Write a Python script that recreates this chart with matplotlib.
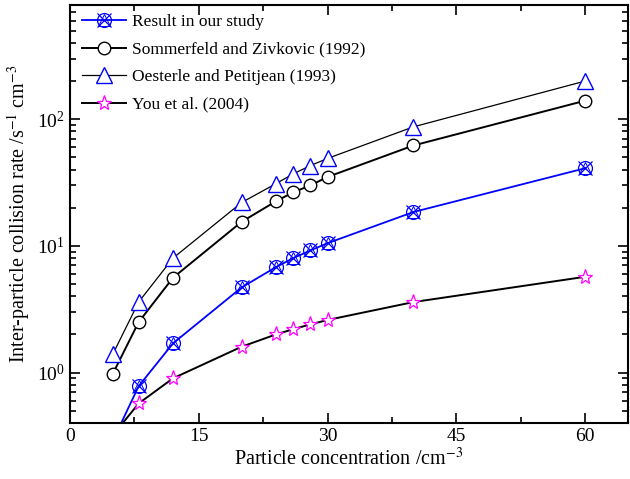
import numpy as np
import matplotlib.pyplot as plt
from matplotlib.ticker import FixedLocator, LogLocator, NullFormatter
from matplotlib.legend_handler import HandlerTuple

plt.rcParams['font.family'] = ['Liberation Serif', 'DejaVu Serif']
plt.rcParams['mathtext.fontset'] = 'stix'

# data
conc = [5, 8, 12, 20, 24, 26, 28, 30, 40, 60]
our_study = [0.29, 0.78, 1.7, 4.7, 6.8, 8.0, 9.2, 10.5, 18.5, 41]
sommerfeld = [0.98, 2.5, 5.6, 15.5, 22.5, 26.5, 30, 35, 62, 140]
oesterle = [1.4, 3.6, 8.0, 22, 31, 37, 43, 49, 87, 200]
you = [0.32, 0.57, 0.9, 1.6, 2.0, 2.2, 2.4, 2.6, 3.6, 5.7]

fig = plt.figure(figsize=(6.3, 4.79), dpi=100)
ax = fig.add_axes([0.111, 0.117, 0.886, 0.873])

# our study: circle + cross + triangle overlay
l1, = ax.plot(conc, our_study, color='blue', lw=1.3, marker='o', ms=10, mfc='none', mec='blue', mew=0.9)
l1x, = ax.plot(conc, our_study, ls='none', marker='x', ms=10, mec='blue', mew=0.9)
l1t, = ax.plot(conc, our_study, ls='none', marker='^', ms=9, mfc='none', mec='blue', mew=0.7)
l2, = ax.plot(conc, sommerfeld, color='black', lw=1.4, marker='o', ms=9, mfc='white', mec='black', mew=1.0)
l3, = ax.plot(conc, oesterle, color='black', lw=0.9, marker='^', ms=11, mfc='white', mec='blue', mew=1.0)
l4, = ax.plot(conc, you, color='black', lw=1.4, marker='*', ms=11, mfc='white', mec='magenta', mew=0.9)

ax.set_yscale('log')
ax.set_xlim(0, 65)
ax.set_ylim(0.4, 800)
ax.xaxis.set_major_locator(FixedLocator([0, 15, 30, 45, 60]))
ax.xaxis.set_minor_locator(FixedLocator([7.5, 22.5, 37.5, 52.5]))
ax.yaxis.set_major_locator(LogLocator(base=10))
ax.yaxis.set_minor_locator(LogLocator(base=10, subs=np.arange(2, 10)))
ax.yaxis.set_minor_formatter(NullFormatter())

ax.tick_params(which='both', direction='in', top=True, right=True, labelsize=14, width=1.2)
ax.tick_params(which='major', length=7)
ax.tick_params(which='minor', length=4)
for s in ax.spines.values():
    s.set_linewidth(1.5)

ax.set_xlabel('Particle concentration /cm$^{-3}$', fontsize=14.5, labelpad=2)
ax.set_ylabel('Inter-particle collision rate /s$^{-1}$ cm$^{-3}$', fontsize=14.5, labelpad=4)

ax.legend([(l1, l1x, l1t), l2, l3, l4],
          ['Result in our study', 'Sommerfeld and Zivkovic (1992)',
           'Oesterle and Petitjean (1993)', 'You et al. (2004)'],
          handler_map={tuple: HandlerTuple(ndivide=1)},
          loc='upper left', bbox_to_anchor=(0.0125, 0.99), frameon=False, fontsize=12.5,
          handlelength=2.5, handletextpad=0.4, labelspacing=0.65, borderaxespad=0, borderpad=0.3)

fig.savefig('out.png', dpi=100)
